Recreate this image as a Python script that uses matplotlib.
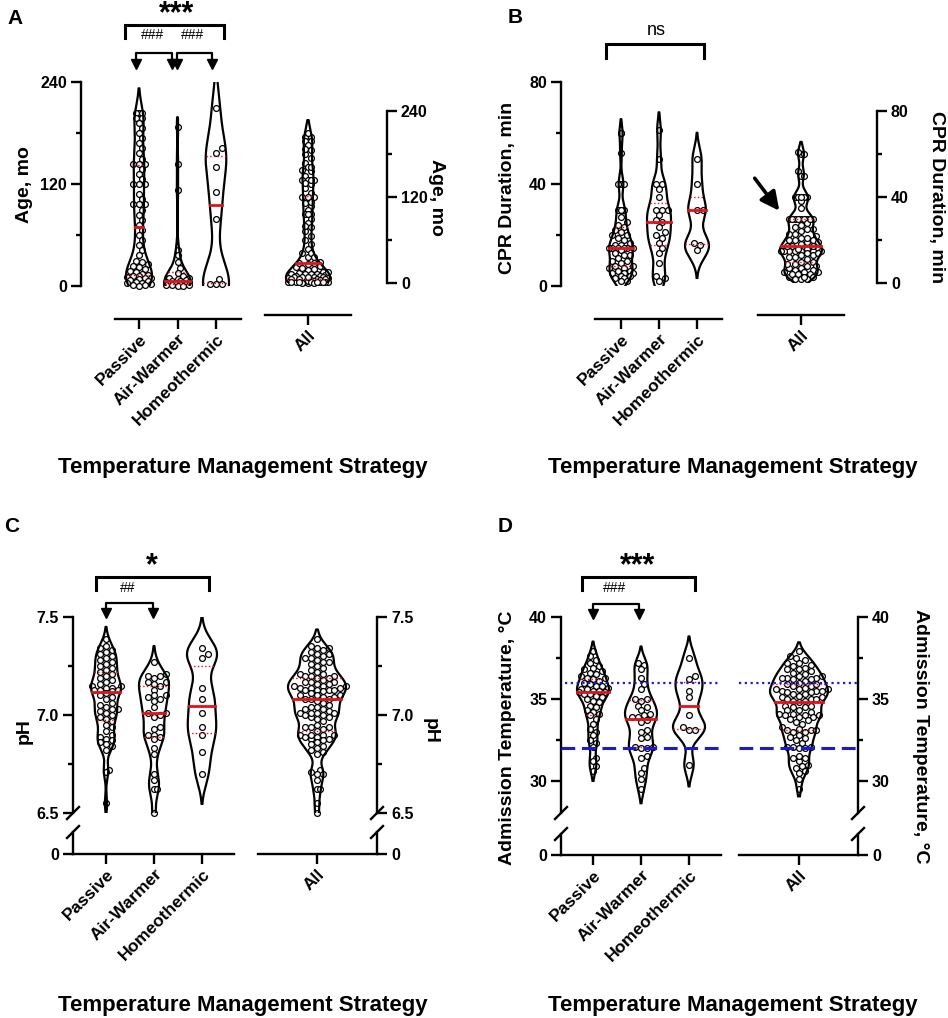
import numpy as np
import matplotlib
matplotlib.use("Agg")
import matplotlib.pyplot as plt

plt.rcParams['font.family'] = ['Liberation Sans', 'DejaVu Sans']
plt.rcParams['font.weight'] = 'bold'

W, H = 948, 1018
RED = '#e3121a'
BLUE = '#1a1ad0'

groups = ["Passive", "Air-Warmer", "Homeothermic"]
all_label = ["All"]

# A - age, months
age_passive = [204, 204, 204, 198, 198, 192, 186, 180, 174, 168, 162, 156, 150, 144, 144, 144, 138, 132, 126,
               120, 120, 120, 108, 102, 96, 96, 96, 90, 84, 78, 72, 66, 60, 54, 48, 42, 36,
               30, 28, 26, 24, 22, 20, 18, 16, 14, 13, 12, 12, 11, 10, 9, 8, 7, 6, 5, 4, 3, 2, 1, 1, 0]
age_air = [187, 144, 113, 42, 36, 28, 21, 15, 12, 10, 9, 8, 7, 6, 6, 5, 5, 4, 4, 3, 3, 2, 2, 1, 1, 1, 0, 0]
age_homeo = [209, 162, 157, 140, 111, 79, 8, 2, 2, 2]

# B - CPR duration, min
cpr_passive = [60, 60, 52, 40, 40, 40, 30, 30, 30, 30, 27, 25, 24, 23, 22, 21, 20, 20, 19, 18, 17, 16, 16,
               15, 15, 15, 15, 15, 15, 14, 13, 12, 12, 11, 10, 10, 9, 8, 8, 7, 7, 6, 6, 5, 5, 5, 4, 4, 3, 3, 2, 2]
cpr_air = [61, 50, 40, 40, 38, 35, 30, 30, 30, 28, 26, 25, 23, 21, 20, 19, 17, 15, 13, 9, 4, 3, 2]
cpr_homeo = [50, 40, 30, 30, 17, 16, 14]

# C - pH
ph_passive = [7.39, 7.35, 7.34, 7.33, 7.32, 7.31, 7.30, 7.29, 7.28, 7.27, 7.26, 7.25, 7.24, 7.23, 7.22, 7.21,
              7.20, 7.19, 7.18, 7.17, 7.16, 7.15, 7.15, 7.14, 7.14, 7.13, 7.13, 7.13, 7.12, 7.11, 7.10, 7.09,
              7.08, 7.06, 7.05, 7.04, 7.03, 7.03, 7.02, 7.01, 7.00, 6.99, 6.98, 6.97, 6.95, 6.94, 6.92, 6.90,
              6.89, 6.88, 6.87, 6.86, 6.85, 6.84, 6.82, 6.72, 6.71, 6.55]
ph_air = [7.27, 7.21, 7.20, 7.20, 7.19, 7.17, 7.17, 7.16, 7.15, 7.13, 7.10, 7.10, 7.09, 7.08, 7.07, 7.04,
          7.01, 7.01, 7.00, 6.99, 6.94, 6.93, 6.90, 6.90, 6.89, 6.88, 6.83, 6.80, 6.70, 6.67, 6.62, 6.62, 6.50]
ph_homeo = [7.34, 7.31, 7.29, 7.14, 7.08, 7.01, 6.94, 6.90, 6.81, 6.70]

# D - admission temperature, C
temp_passive = [37.9, 37.6, 37.4, 37.2, 37.0, 36.9, 36.8, 36.7, 36.6, 36.5, 36.4, 36.3, 36.3, 36.2, 36.1,
                36.0, 35.9, 35.8, 35.8, 35.7, 35.6, 35.6, 35.5, 35.5, 35.4, 35.4, 35.3, 35.3, 35.2, 35.1,
                35.0, 34.9, 34.8, 34.6, 34.5, 34.3, 34.2, 34.1, 34.0, 33.8, 33.5, 33.2, 33.0, 32.8, 32.5,
                32.3, 32.1, 31.4, 31.2, 30.9, 30.6]
temp_air = [37.2, 37.1, 36.8, 36.3, 35.9, 35.6, 35.0, 35.0, 34.9, 34.6, 34.5, 34.3, 34.1, 34.0, 33.9, 33.9,
            33.7, 33.6, 33.1, 33.0, 32.7, 32.6, 32.1, 32.1, 32.0, 32.0, 31.5, 31.4, 30.8, 30.5, 30.1, 29.5]
temp_homeo = [37.5, 36.4, 36.2, 35.5, 35.1, 34.0, 33.3, 33.1, 33.1, 31.0]
temp_lines = [36, 32]

fig = plt.figure(figsize=(W / 100, H / 100), dpi=100)
fig.patch.set_facecolor('white')


def px_axes(l, t, r, b):
    ax = fig.add_axes([l / W, 1 - b / H, (r - l) / W, (b - t) / H])
    ax.patch.set_alpha(0)
    for s in ax.spines.values():
        s.set_linewidth(1.7)
    return ax


def side_axes(box, pos0, unit, ylim, ticks, ticklabels, minor, side, xlabels,
              xbar=None, offset=0, lower=None):
    L, T, R, B = box
    ax = px_axes(L, T, R, B)
    conv = lambda p: 1 + (p - pos0) / unit
    ax.set_xlim(conv(L), conv(R))
    ax.set_ylim(*ylim)
    other = 'right' if side == 'left' else 'left'
    ax.spines['top'].set_visible(False)
    ax.spines[other].set_visible(False)
    ax.set_yticks(ticks)
    ax.set_yticklabels(ticklabels)
    ax.set_yticks(minor, minor=True)
    ax.yaxis.set_ticks_position(side)
    ax.tick_params(axis='y', which='major', length=7, width=1.7, labelsize=11.5, pad=3)
    ax.tick_params(axis='y', which='minor', length=3.6, width=1.7)
    if lower is None:
        ax.spines['bottom'].set_position(('outward', offset * 0.72))
        ax.spines['bottom'].set_bounds(conv(xbar[0]), conv(xbar[1]))
        xax = ax
    else:
        ax.spines['bottom'].set_visible(False)
        xax = px_axes(L, lower[0], R, lower[1])
        xax.set_xlim(conv(L), conv(R))
        xax.set_ylim(0, 1)
        xax.spines['top'].set_visible(False)
        xax.spines[other].set_visible(False)
        xax.set_yticks([0])
        xax.set_yticklabels(['0'])
        xax.yaxis.set_ticks_position(side)
        xax.tick_params(axis='y', length=7, width=1.7, labelsize=11.5, pad=3)
        ax.set_xticks([])
    xax.set_xticks(list(range(1, len(xlabels) + 1)))
    xax.set_xticklabels(xlabels, rotation=45, ha='right', rotation_mode='anchor', fontsize=12.5)
    xax.tick_params(axis='x', length=7, width=1.7, pad=2)
    ppy = (B - T) / (ylim[1] - ylim[0])
    return ax, conv, ppy


def draw_violin(ax, vals, pos, half_px, bw_frac, ppx, ppy, diam=5.8):
    v = np.asarray(vals, float)
    bw = bw_frac * v.std(ddof=1) * len(v) ** -0.2
    grid = np.linspace(v.min() - 3 * bw, v.max() + 3 * bw, 700)
    dens = np.exp(-0.5 * ((grid[:, None] - v[None, :]) / bw) ** 2).sum(axis=1)
    dens /= dens.max()
    keep = (dens >= 0.03) | ((grid >= v.min()) & (grid <= v.max()))
    idx = np.where(keep)[0]
    grid = grid[idx[0]:idx[-1] + 1]
    dens = dens[idx[0]:idx[-1] + 1]
    half = half_px / ppx
    w = dens * half
    ax.fill_betweenx(grid, pos - w, pos + w, facecolor='white', edgecolor='none', zorder=2)
    ax.plot(np.r_[pos - w, (pos + w)[::-1]], np.r_[grid, grid[::-1]], color='black', lw=1.6, zorder=4)

    # simple deterministic swarm, kept inside the violin where possible
    placed = []
    xs = np.zeros(len(v))
    step = diam * 0.5
    for i in np.argsort(v, kind='stable'):
        yp = v[i] * ppy
        cap = np.interp(v[i], grid, dens) * half_px + 1.0
        cands = [0.0]
        k = 1
        while k * step <= cap:
            cands += [k * step, -k * step]
            k += 1
        best, best_d = None, -1
        for c in cands:
            d = min((np.hypot(c - px, yp - py) for px, py in placed), default=np.inf)
            if d >= diam * 0.95:
                best = c
                break
            if d > best_d:
                best_d, bestc = d, c
        if best is None:
            best = bestc
        placed.append((best, yp))
        xs[i] = pos + best / ppx
    ax.plot(xs, v, 'o', ls='none', mfc='white', mec='black', ms=4.2, mew=0.9, zorder=3, clip_on=False)

    q1, med, q3 = np.percentile(v, [25, 50, 75])
    for q, ls, lw in [(q1, ':', 1.0), (med, '-', 2.0), (q3, ':', 1.0)]:
        wq = np.interp(q, grid, dens) * half
        ax.plot([pos - wq, pos + wq], [q, q], color=RED, ls=ls, lw=lw, zorder=5)


def violins(ax, sets, half_px, bw, ppx, ppy):
    for k, vals in enumerate(sets):
        draw_violin(ax, vals, k + 1, half_px, bw, ppx, ppy)


# ---------------- Panel A ----------------
ua = (216 - 139) / 2
axA, cA, pyA = side_axes((81, 82, 241, 286), 139, ua, (0, 240), [0, 120, 240], ['0', '120', '240'],
                         [60, 180], 'left', groups, xbar=(115, 241), offset=33)
violins(axA, [age_passive, age_air, age_homeo], 13, 0.5, ua, pyA)
axA2, cA2, pyA2 = side_axes((265, 111, 387, 283), 308, ua, (0, 240), [0, 120, 240], ['0', '120', '240'],
                            [60, 180], 'right', all_label, xbar=(265, 351), offset=32)
violins(axA2, [age_passive + age_air + age_homeo], 22, 0.5, ua, pyA2)

# ---------------- Panel B ----------------
ub = (697 - 621) / 2
axB, cB, pyB = side_axes((561, 82, 722, 286), 621, ub, (0, 80), [0, 40, 80], ['0', '40', '80'],
                         [20, 60], 'left', groups, xbar=(595, 722), offset=33)
violins(axB, [cpr_passive, cpr_air, cpr_homeo], 12, 0.5, ub, pyB)
axB2, cB2, pyB2 = side_axes((758, 111, 877, 283), 801, ub, (0, 80), [0, 40, 80], ['0', '40', '80'],
                            [20, 60], 'right', all_label, xbar=(758, 844), offset=32)
violins(axB2, [cpr_passive + cpr_air + cpr_homeo], 21, 0.5, ub, pyB2)

# ---------------- Panel C ----------------
uc = (202 - 106) / 2
axC, cC, pyC = side_axes((73, 617, 234, 813), 106, uc, (6.5, 7.5), [6.5, 7.0, 7.5], ['6.5', '7.0', '7.5'],
                         [6.75, 7.25], 'left', groups, lower=(832, 854))
violins(axC, [ph_passive, ph_air, ph_homeo], 15, 0.5, uc, pyC)
axC2, cC2, pyC2 = side_axes((258, 617, 377, 813), 317, uc, (6.5, 7.5), [6.5, 7.0, 7.5], ['6.5', '7.0', '7.5'],
                            [6.75, 7.25], 'right', all_label, lower=(832, 854))
violins(axC2, [ph_passive + ph_air + ph_homeo], 29, 0.5, uc, pyC2)

# ---------------- Panel D ----------------
ud = (689 - 593) / 2
d_lo = 30 - (813 - 781) / ((781 - 617) / 10)
axD, cD, pyD = side_axes((561, 617, 721, 813), 593, ud, (d_lo, 40), [30, 35, 40], ['30', '35', '40'],
                         [32.5, 37.5], 'left', groups, lower=(834, 855))
violins(axD, [temp_passive, temp_air, temp_homeo], 16, 0.5, ud, pyD)
axD.plot([cD(565), cD(720)], [temp_lines[0]] * 2, color=BLUE, ls=(0, (1, 1.6)), lw=1.6, zorder=6)
axD.plot([cD(561), cD(722)], [temp_lines[1]] * 2, color=BLUE, ls=(0, (4.5, 2.2)), lw=2.2, zorder=6, clip_on=False)
axD2, cD2, pyD2 = side_axes((739, 617, 858, 813), 799, ud, (d_lo, 40), [30, 35, 40], ['30', '35', '40'],
                            [32.5, 37.5], 'right', all_label, lower=(834, 855))
violins(axD2, [temp_passive + temp_air + temp_homeo], 29, 0.5, ud, pyD2)
axD2.plot([cD2(739), cD2(858)], [temp_lines[0]] * 2, color=BLUE, ls=(0, (1, 1.6)), lw=1.6, zorder=6)
axD2.plot([cD2(739), cD2(858)], [temp_lines[1]] * 2, color=BLUE, ls=(0, (4.5, 2.2)), lw=2.2, zorder=6)

# ---------------- overlay for labels and annotations ----------------
ov = fig.add_axes([0, 0, 1, 1])
ov.set_xlim(0, W)
ov.set_ylim(H, 0)
ov.axis('off')


def txt(x, y, s, size, rot=0, weight='bold'):
    ov.text(x, y, s, fontsize=size, rotation=rot, ha='center', va='center', fontweight=weight)


def bracket(x0, x1, y, yl):
    ov.plot([x0, x0, x1, x1], [yl, y, y, yl], color='black', lw=2.2, solid_joinstyle='miter')


def arrow_bracket(x0, x1, y, ytip):
    ov.plot([x0, x0, x1, x1], [ytip - 7, y, y, ytip - 7], color='black', lw=1.6)
    ov.plot([x0, x1], [ytip - 4, ytip - 4], 'v', color='black', ms=7, ls='none')


def slash(x, y):
    ov.plot([x - 6, x + 6], [y + 6, y - 6], color='black', lw=1.7)


for s, x, y in [('A', 15, 18), ('B', 515, 17), ('C', 12, 527), ('D', 505, 526)]:
    txt(x, y, s, 15)

for x in (243, 733):
    txt(x, 467, 'Temperature Management Strategy', 16)
    txt(x, 1005, 'Temperature Management Strategy', 16)

txt(25, 185, 'Age, mo', 14, 90)
txt(437, 197, 'Age, mo', 14, 270)
txt(508, 188, 'CPR Duration, min', 14, 90)
txt(937, 197, 'CPR Duration, min', 14, 270)
txt(24, 731, 'pH', 14, 90)
txt(430, 731, 'pH', 14, 270)
txt(508, 738, 'Admission Temperature, °C', 14, 90)
txt(921, 736, 'Admission Temperature, °C', 14, 270)

# significance marks
txt(177, 14, '***', 22)
bracket(125, 224, 25, 38)
txt(153, 35, '###', 10, weight='normal')
txt(193, 35, '###', 10, weight='normal')
arrow_bracket(136, 172, 53, 68)
arrow_bracket(177, 212, 53, 68)

txt(656, 30, 'ns', 13, weight='normal')
bracket(606, 704, 44, 58)
ov.annotate('', xy=(781, 213), xytext=(753, 176),
            arrowprops=dict(arrowstyle='-|>', lw=2.6, color='black', mutation_scale=28))

txt(152, 566, '*', 22)
bracket(96, 209, 577, 590)
txt(128, 588, '##', 10, weight='normal')
arrow_bracket(106, 153, 603, 617)

txt(638, 566, '***', 22)
bracket(582, 695, 577, 590)
txt(615, 588, '###', 10, weight='normal')
arrow_bracket(593, 639, 604, 618)

for x in (73, 377):
    slash(x, 813)
    slash(x, 832)
for x in (561, 858):
    slash(x, 813)
    slash(x, 834)

fig.savefig('out.png', dpi=100, facecolor='white')
